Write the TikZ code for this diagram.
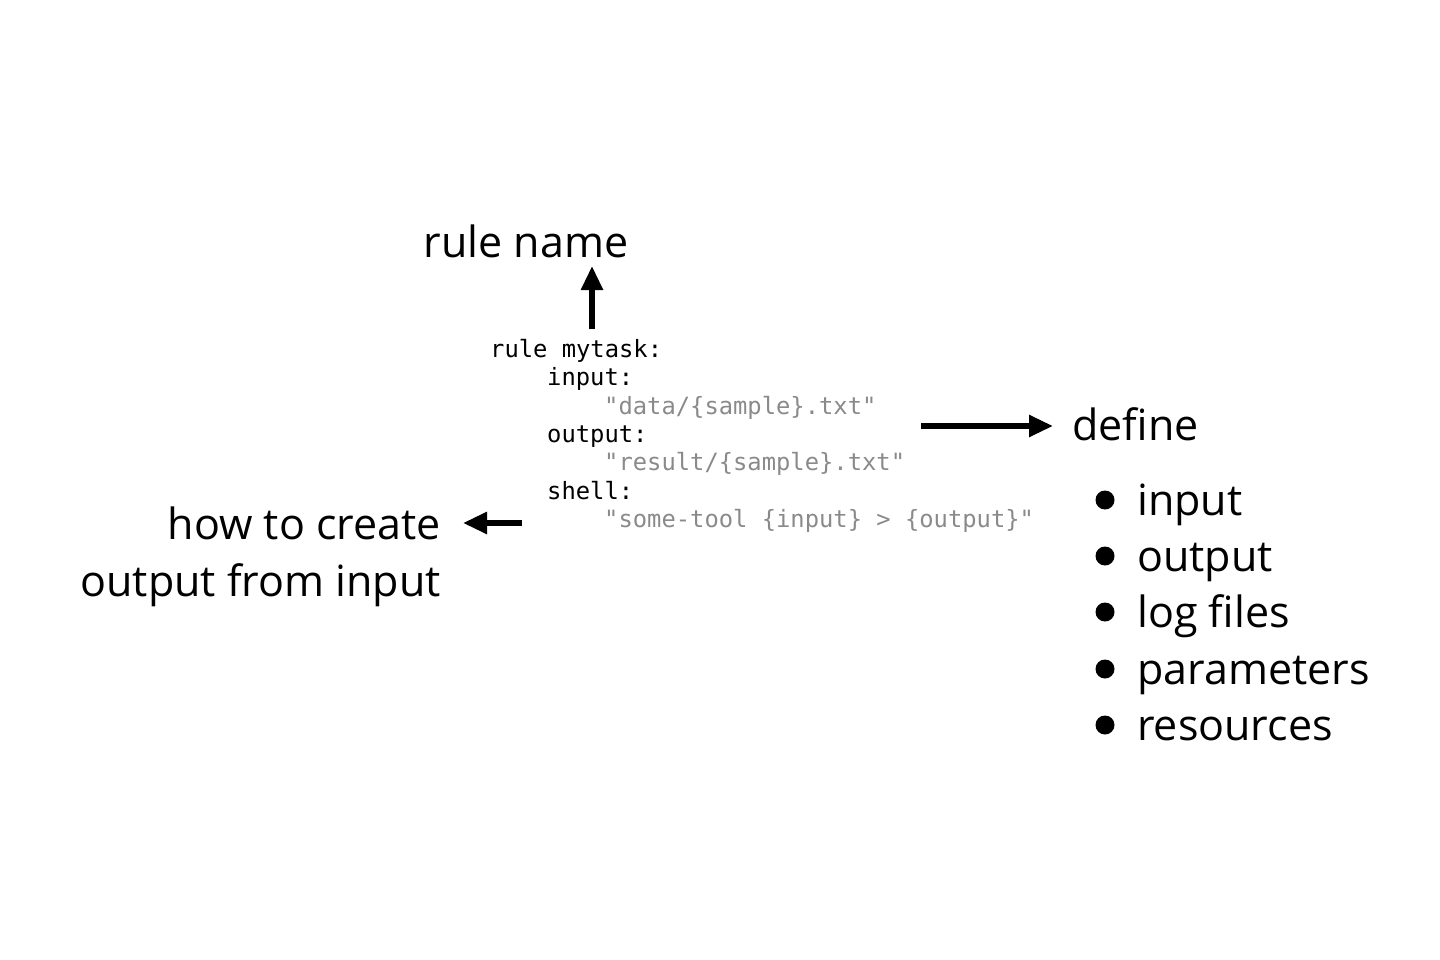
\documentclass[tikz,border=0pt]{standalone}
\usepackage{fontspec}
\setmainfont{Open Sans}
\setmonofont{DejaVu Sans Mono}
\usetikzlibrary{arrows.meta}
\definecolor{codegray}{HTML}{8A8A8A}
\tikzset{
  label/.style={inner sep=0pt, font=\fontsize{43}{52}\selectfont},
  code/.style={inner sep=0pt, font=\fontsize{23.8}{28}\selectfont\ttfamily},
  str/.style={code, text=codegray},
  bigarrow/.style={line width=5.5pt, -{Triangle[length=24pt,width=21pt]}},
  dot/.style={circle, fill=black, inner sep=0pt, minimum size=19pt}
}
\begin{document}
\begin{tikzpicture}[x=1pt,y=-1pt]
\useasboundingbox (0,0) rectangle (1440,960);
% code
\node[code, anchor=base west] (c1) at (490,357) {rule mytask:};
\node[code, anchor=base west] (c2) at (547,385) {input:};
\node[str, anchor=base west] (c3) at (604,414) {"data/\{sample\}.txt"};
\node[code, anchor=base west] (c4) at (547,442) {output:};
\node[str, anchor=base west] (c5) at (604,470) {"result/\{sample\}.txt"};
\node[code, anchor=base west] (c6) at (547,499) {shell:};
\node[str, anchor=base west] (c7) at (604,527) {"some-tool \{input\} > \{output\}"};
% labels
\node[label, anchor=base] (rn) at (526,257) {rule name};
\node[label, anchor=base west] (def) at (1072,440) {define};
\node[label, anchor=base east] (how1) at (441,539) {how to create};
\node[label, anchor=base east] (how2) at (441,596) {output from input};
% arrows
\coordinate (upS) at (592,329);
\coordinate (upE) at (592,266);
\draw[bigarrow] (upS) -- (upE);
\coordinate (rS) at (921,426);
\coordinate (rE) at (1053,426);
\draw[bigarrow] (rS) -- (rE);
\coordinate (lS) at (522,523);
\coordinate (lE) at (463,523);
\draw[bigarrow] (lS) -- (lE);
% bullets
\foreach \t/\y/\n in {input/515/1, output/571/2, log files/627/3, parameters/684/4, resources/740/5}{
  \node[label, anchor=base west] (b\n) at (1137,\y) {\t};
  \node[dot] (d\n) at (1105,\y-15) {};
}
\end{tikzpicture}
\end{document}
